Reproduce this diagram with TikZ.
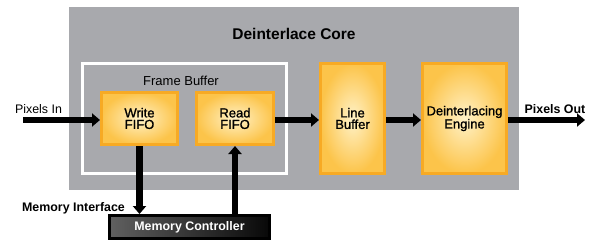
\documentclass[tikz,border=0pt]{standalone}
\usepackage{fontspec}
\setmainfont{Liberation Sans}
\newfontfamily\blkfont[FakeBold=1.2]{Liberation Sans}
\usetikzlibrary{arrows.meta}
\definecolor{coregray}{RGB}{168,169,173}
\definecolor{boxedge}{RGB}{247,170,36}
\definecolor{boxmid}{RGB}{255,242,200}
\definecolor{boxrim}{RGB}{252,196,74}
\definecolor{mcleft}{RGB}{96,96,96}
\definecolor{mcmid}{RGB}{138,138,138}
\definecolor{mcright}{RGB}{8,8,8}
\begin{document}
\begin{tikzpicture}[x=1pt, y=-1pt,
    blk/.style={draw=boxedge, line width=3pt, inner color=boxmid, outer color=boxrim,
        align=center, inner sep=0pt, font=\blkfont\fontsize{13}{11.5}\selectfont},
    lbl/.style={anchor=base, inner sep=0pt, font=\fontsize{12.4}{14}\selectfont},
    bold/.style={lbl, font=\bfseries\fontsize{12.4}{14}\selectfont},
    flow/.style={line width=6.5pt, -{Triangle[length=8pt,width=13pt]}}
]
    \useasboundingbox (0,0) rectangle (594,250);

    % core and frame buffer
    \node[fill=coregray, minimum width=450pt, minimum height=183pt, inner sep=0pt] (core) at (294,98.5) {};
    \node[bold, font=\bfseries\fontsize{15.5}{17}\selectfont] (title) at (294,39) {Deinterlace Core};
    \node[draw=white, line width=3pt, minimum width=204pt, minimum height=110pt, inner sep=0pt] (fbuf) at (184.5,118.5) {};
    \node[lbl, font=\fontsize{13}{14}\selectfont] (fbuflbl) at (181,85) {Frame Buffer};

    % processing blocks
    \node[blk, minimum width=76pt, minimum height=52pt] (wfifo) at (139.5,118.5) {Write\\FIFO};
    \node[blk, minimum width=77pt, minimum height=52pt] (rfifo) at (235,118.5) {Read\\FIFO};
    \node[blk, minimum width=64pt, minimum height=110pt] (linebuf) at (352.5,118.5) {Line\\Buffer};
    \node[blk, minimum width=84pt, minimum height=110pt] (engine) at (464.5,118.5) {Deinterlacing\\Engine};

    % memory controller
    \node[draw=black, line width=3pt, left color=mcleft, middle color=mcmid, right color=mcright,
        minimum width=160pt, minimum height=23pt, inner sep=0pt, text=white,
        font=\bfseries\fontsize{12.4}{14}\selectfont] (memctl) at (189.5,227) {Memory Controller};

    % external labels
    \node[lbl] (pinlbl) at (38.5,113) {Pixels In};
    \node[bold] (poutlbl) at (555,113) {Pixels Out};
    \node[bold] (memif) at (73.5,211) {Memory Interface};

    % data flow
    \coordinate (pin) at (23,120);
    \coordinate (pout) at (585,120);
    \draw[flow] (pin) -- (pin -| wfifo.west);
    \draw[flow] (rfifo.east |- pin) -- (linebuf.west |- pin);
    \draw[flow] (linebuf.east |- pin) -- (engine.west |- pin);
    \draw[flow] (engine.east |- pout) -- (pout);
    \draw[flow] (wfifo.south) -- (wfifo.south |- memctl.north);
    \draw[flow] (rfifo.south |- memctl.north) -- (rfifo.south);
\end{tikzpicture}
\end{document}
